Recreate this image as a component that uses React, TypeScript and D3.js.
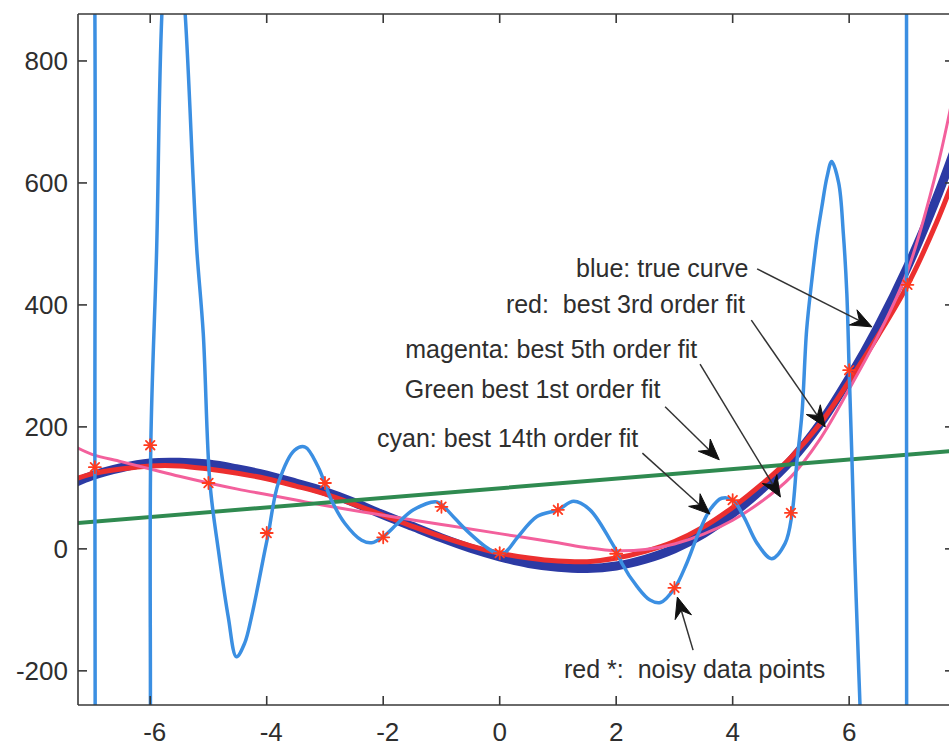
import React from 'react';
import * as d3 from 'd3';

const W = 949;
const H = 747;

// axis limits (data units)
const X_DOMAIN: [number, number] = [-7.24, 7.8];
const Y_DOMAIN: [number, number] = [-256, 877];
const xTicks = [-6, -4, -2, 0, 2, 4, 6];
const yTicks = [-200, 0, 200, 400, 600, 800];

// noisy data points (red *)
const dataX = [-6.95, -6, -5, -4, -3, -2, -1, 0, 1, 2, 3, 4, 5, 6, 7];
const dataY = [134, 170, 108, 26, 108, 19, 69, -7, 64, -8, -64, 80, 59, 293, 433];

// blue: true curve
const trueX = [-7.3, -7, -6.5, -6, -5.5, -5, -4.5, -4, -3.5, -3, -2.5, -2, -1.5, -1, -0.5, 0, 0.5, 1, 1.5, 2, 2.5, 3, 3.5, 4, 4.5, 5, 5.5, 6, 6.5, 7, 7.5, 7.85];
const trueY = [108, 120, 133, 141, 142, 139, 131, 121, 108, 94, 76, 56, 37, 18, 1, -13, -24, -30, -32, -28, -17, 0, 25, 58, 98, 145, 205, 280, 365, 462, 575, 665];

// red: best 3rd order fit
const fit3X = [-7.3, -7, -6.5, -6, -5.5, -5, -4.5, -4, -3.5, -3, -2.5, -2, -1.5, -1, -0.5, 0, 0.5, 1, 1.5, 2, 2.5, 3, 3.5, 4, 4.5, 5, 5.5, 6, 6.5, 7, 7.5, 7.85];
const fit3Y = [114, 123, 131, 136, 136, 131, 124, 115, 103, 90, 73, 55, 37, 20, 5, -7, -15, -20, -21, -15, -4, 12, 36, 68, 106, 150, 205, 275, 350, 432, 535, 620];

// magenta: best 5th order fit
const fit5X = [-7.3, -7, -6.5, -6, -5.5, -5, -4.5, -4, -3.5, -3, -2, -1, 0, 1, 1.5, 2, 2.5, 3, 3.5, 4, 4.5, 5, 5.5, 6, 6.5, 7, 7.5, 7.85];
const fit5Y = [168, 155, 143, 131, 119, 108, 98, 89, 80, 71, 55, 40, 25, 10, 2, -3, -1, 8, 24, 47, 78, 118, 180, 262, 350, 455, 620, 775];

// green: best 1st order fit
const fit1X = [-7.3, 7.85];
const fit1Y = [42, 161];

// cyan: best 14th order fit
const fit14X = [-7.4, -7.1, -6.96, -6.95, -6.94, -6.8, -6.4, -6.1, -6.0, -5.99, -5.89, -5.8, -5.62, -5.4, -5.26, -5.2, -5.09, -4.975, -4.83, -4.66, -4.52, -4.38, -4.26, -4.03, -3.97, -3.8, -3.52, -3.34, -3.12, -2.89, -2.66, -2.37, -2.2, -2.0, -1.75, -1.48, -1.08, -0.96, -0.75, -0.51, -0.25, -0.05, 0.1, 0.3, 0.64, 1.0, 1.27, 1.55, 1.9, 2.03, 2.1, 2.36, 2.58, 2.76, 3.0, 3.21, 3.39, 3.61, 3.81, 4.0, 4.19, 4.42, 4.67, 4.9, 5.02, 5.1, 5.19, 5.27, 5.36, 5.45, 5.53, 5.62, 5.7, 5.82, 5.9, 5.96, 6.0, 6.05, 6.1, 6.16, 6.2, 6.4, 6.7, 6.96, 6.985, 7.01, 7.3, 7.85];
const fit14Y = [3000, 1600, 1000, 134, -700, -1500, -2500, -1200, -400, 170, 490, 877, 1150, 877, 600, 490, 354, 108, -2, -112, -177, -155, -111, -2, 26, 108, 162, 167, 135, 80, 42, 14, 10, 20, 42, 64, 77, 69, 48, 25, 4, -7, -5, 18, 53, 64, 78, 64, 14, -8, -24, -62, -84, -88, -65, -24, 20, 64, 83, 80, 53, 9, -16, 9, 58, 140, 222, 359, 441, 512, 560, 610, 635, 600, 517, 419, 293, 140, -24, -188, -300, -1200, -2000, -800, 433, 1500, 3000, 4000];

// annotations: text (right end / baseline) and arrow start -> tip, in data units
type Ann = { text: string; tx: number; ty: number; anchor: 'start' | 'end'; sx: number; sy: number; ex: number; ey: number };
const annotations: Ann[] = [
  { text: 'blue: true curve', tx: 4.27, ty: 446, anchor: 'end', sx: 4.42, sy: 459, ex: 6.39, ey: 364 },
  { text: 'red:  best 3rd order fit', tx: 4.21, ty: 387, anchor: 'end', sx: 4.32, sy: 375, ex: 5.59, ey: 200 },
  { text: 'magenta: best 5th order fit', tx: 3.39, ty: 313, anchor: 'end', sx: 3.44, sy: 303, ex: 4.82, ey: 85 },
  { text: 'Green best 1st order fit', tx: 2.76, ty: 247, anchor: 'end', sx: 2.84, sy: 233, ex: 3.77, ey: 146 },
  { text: 'cyan: best 14th order fit', tx: 2.38, ty: 167, anchor: 'end', sx: 2.45, sy: 157, ex: 3.61, ey: 57 },
  { text: 'red *:  noisy data points', tx: 5.59, ty: -212, anchor: 'end', sx: 3.32, sy: -166, ex: 3.05, ey: -79 },
];

const PLOT = { left: 78, right: 954, top: 14, bottom: 705 };

const C_TRUE = '#2c3aa4';
const C_RED = '#ec2f2f';
const C_PINK = '#f3609c';
const C_GREEN = '#2f8a50';
const C_CYAN = '#3b8fe2';
const C_AXIS = '#383838';
const C_TEXT = '#2e2e2e';

export default function App() {
  const x = d3.scaleLinear().domain(X_DOMAIN).range([PLOT.left, PLOT.right]);
  const y = d3.scaleLinear().domain(Y_DOMAIN).range([PLOT.bottom, PLOT.top]);

  const path = (xs: number[], ys: number[], curve: d3.CurveFactory) =>
    d3
      .line<number>()
      .x((i) => x(xs[i]))
      .y((i) => y(ys[i]))
      .curve(curve)(d3.range(xs.length)) || '';

  const cr = d3.curveCatmullRom.alpha(0.5);

  const arrow = (a: Ann, k: number) => {
    const x0 = x(a.sx), y0 = y(a.sy), x1 = x(a.ex), y1 = y(a.ey);
    const dx = x1 - x0, dy = y1 - y0;
    const len = Math.hypot(dx, dy);
    const ux = dx / len, uy = dy / len;
    const nx = -uy, ny = ux;
    const L = 21, hw = 8.5, notch = 7;
    const bx = x1 - L * ux, by = y1 - L * uy;
    const mx = x1 - (L - notch) * ux, my = y1 - (L - notch) * uy;
    const head = `M${x1},${y1}L${bx + hw * nx},${by + hw * ny}L${mx},${my}L${bx - hw * nx},${by - hw * ny}Z`;
    return (
      <g key={'arr' + k}>
        <line x1={x0} y1={y0} x2={mx} y2={my} stroke="#333" strokeWidth={1.5} />
        <path d={head} fill="#111" stroke="#111" strokeWidth={1} strokeLinejoin="miter" />
      </g>
    );
  };

  const tickLen = 9;

  return (
    <div style={{ position: 'absolute', left: 0, top: 0 }}>
      <svg width={W} height={H} style={{ display: 'block', background: '#fff' }} fontFamily="'Liberation Sans', Arial, Helvetica, sans-serif">
        <defs>
          <clipPath id="plotclip">
            <rect x={PLOT.left} y={PLOT.top} width={PLOT.right - PLOT.left} height={PLOT.bottom - PLOT.top} />
          </clipPath>
        </defs>
        <rect x={0} y={0} width={W} height={H} fill="#fff" />

        <g clipPath="url(#plotclip)" fill="none" strokeLinejoin="round" strokeLinecap="round">
          <path d={path(trueX, trueY, cr)} stroke={C_TRUE} strokeWidth={9} />
          <path d={path(fit3X, fit3Y, cr)} stroke={C_RED} strokeWidth={5} />
          <path d={path(fit5X, fit5Y, cr)} stroke={C_PINK} strokeWidth={3} />
          <path d={path(fit1X, fit1Y, d3.curveLinear)} stroke={C_GREEN} strokeWidth={4} />
          <path d={path(fit14X, fit14Y, cr)} stroke={C_CYAN} strokeWidth={3.5} />
          {dataX.map((dx, i) => {
            const cx = x(dx), cy = y(dataY[i]);
            const r = 6, r2 = 4.3;
            return (
              <g key={'pt' + i} stroke="#ff3b1f" strokeWidth={1.8}>
                <line x1={cx - r} y1={cy} x2={cx + r} y2={cy} />
                <line x1={cx} y1={cy - r} x2={cx} y2={cy + r} />
                <line x1={cx - r2} y1={cy - r2} x2={cx + r2} y2={cy + r2} />
                <line x1={cx - r2} y1={cy + r2} x2={cx + r2} y2={cy - r2} />
              </g>
            );
          })}
        </g>

        {/* axes box */}
        <g stroke={C_AXIS} strokeWidth={1.6} fill="none">
          <line x1={PLOT.left} y1={PLOT.top} x2={PLOT.left} y2={PLOT.bottom} />
          <line x1={PLOT.left} y1={PLOT.bottom} x2={PLOT.right} y2={PLOT.bottom} />
          <line x1={PLOT.left} y1={PLOT.top} x2={PLOT.right} y2={PLOT.top} />
          <line x1={PLOT.right} y1={PLOT.top} x2={PLOT.right} y2={PLOT.bottom} />
          {xTicks.map((t) => (
            <g key={'xt' + t}>
              <line x1={x(t)} y1={PLOT.bottom} x2={x(t)} y2={PLOT.bottom - tickLen} />
              <line x1={x(t)} y1={PLOT.top} x2={x(t)} y2={PLOT.top + tickLen} />
            </g>
          ))}
          {yTicks.map((t) => (
            <g key={'yt' + t}>
              <line x1={PLOT.left} y1={y(t)} x2={PLOT.left + tickLen} y2={y(t)} />
              <line x1={PLOT.right} y1={y(t)} x2={PLOT.right - tickLen} y2={y(t)} />
            </g>
          ))}
        </g>

        {/* tick labels */}
        <g fill={C_TEXT} fontSize={26}>
          {xTicks.map((t) => (
            <text key={'xl' + t} x={x(t) + (t < 0 ? 4.5 : 0)} y={741} textAnchor="middle">
              {String(t)}
            </text>
          ))}
          {yTicks.map((t) => (
            <text key={'yl' + t} x={68} y={y(t) + 9.5} textAnchor="end">
              {String(t)}
            </text>
          ))}
        </g>

        {/* annotations */}
        <g>{annotations.map((a, k) => arrow(a, k))}</g>
        <g fill={C_TEXT} fontSize={25} style={{ whiteSpace: 'pre' }}>
          {annotations.map((a, k) => (
            <text key={'at' + k} x={x(a.tx)} y={y(a.ty)} textAnchor={a.anchor} xmlSpace="preserve">
              {a.text}
            </text>
          ))}
        </g>
      </svg>
    </div>
  );
}
